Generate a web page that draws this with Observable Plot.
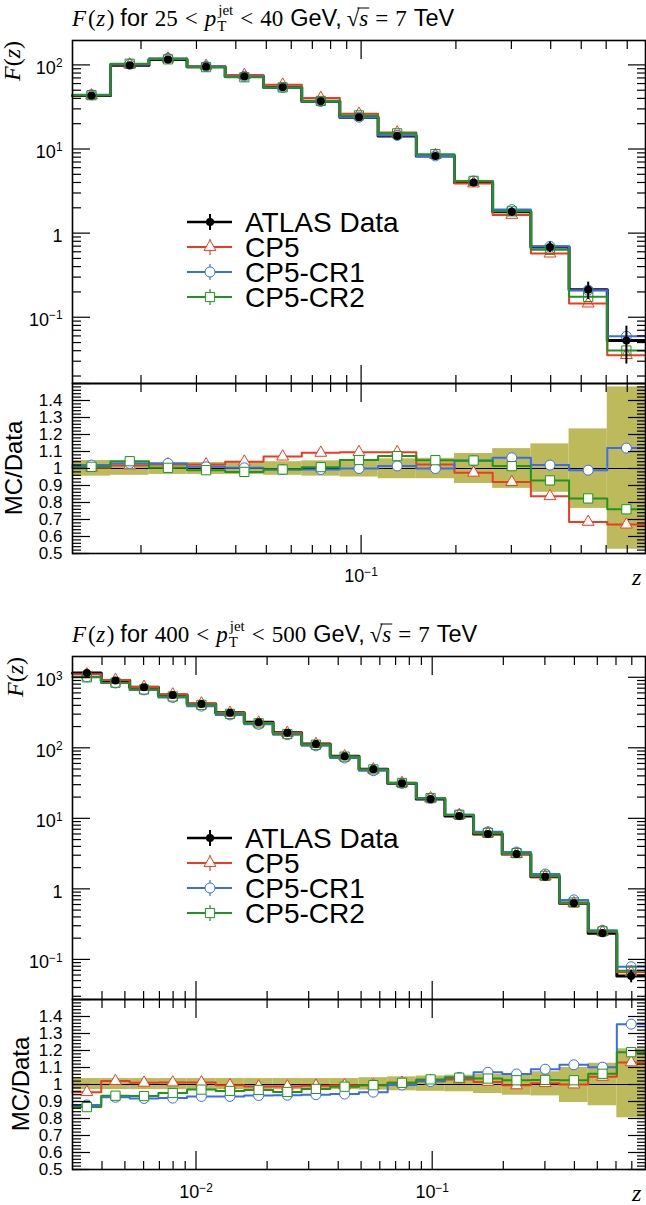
<!DOCTYPE html>
<html>
<head>
<meta charset="utf-8">
<script src="https://cdn.jsdelivr.net/npm/d3@7"></script>
<script src="https://cdn.jsdelivr.net/npm/@observablehq/plot@0.6"></script>
<style>
  body { margin: 0; background: #fff; }
  #page { position: relative; width: 646px; height: 1205px; overflow: hidden; background: #fff; }
  #page > svg { position: absolute; left: 0; }
</style>
</head>
<body>
<div id="page"></div>
<script>
// ---- 25 < pT(jet) < 40 GeV ----
const edgesLow = [0.01212, 0.0160, 0.0212, 0.0280, 0.0370, 0.0490, 0.0648, 0.0856, 0.1132, 0.1497, 0.1979, 0.2617, 0.346, 0.4575, 0.605, 0.80];
const dataLow = [43.2, 99, 116, 95, 72.7, 54.3, 37.0, 23.9, 14.3, 8.28, 3.99, 1.79, 0.682, 0.212, 0.0529];
const errUpLow = [0.047, 0.04, 0.035, 0.035, 0.035, 0.04, 0.045, 0.05, 0.057, 0.06, 0.088, 0.117, 0.145, 0.233, 0.48];
const errDnLow = [0.045, 0.04, 0.035, 0.035, 0.035, 0.04, 0.045, 0.05, 0.06, 0.06, 0.088, 0.117, 0.14, 0.235, 0.475];
const cp5Low = [1.005, 1.018, 1.024, 1.024, 1.04, 1.07, 1.092, 1.096, 1.096, 1.024, 0.975, 0.92, 0.837, 0.686, 0.67];
const cr1Low = [1.02, 1.03, 1.03, 1.01, 1.004, 0.994, 0.994, 1.0, 1.015, 1.0, 1.045, 1.063, 1.02, 0.99, 1.12];
const cr2Low = [1.01, 1.043, 1.004, 0.99, 0.98, 0.994, 1.008, 1.05, 1.073, 1.049, 1.047, 1.014, 0.93, 0.824, 0.76];

// ---- 400 < pT(jet) < 500 GeV ----
const edgesHigh = [0.0030, 0.00397, 0.00524, 0.00693, 0.00917, 0.01212, 0.0160, 0.0212, 0.0280, 0.0370, 0.0490, 0.0648, 0.0856, 0.1132, 0.1497, 0.1979, 0.2617, 0.346, 0.4575, 0.605, 0.80];
const dataHigh = [1152, 897, 721, 562, 419, 315, 230, 164, 113.5, 75.9, 49.6, 31.4, 18.8, 10.8, 6.01, 3.13, 1.49, 0.625, 0.235, 0.058];
const errUpHigh = [0.035, 0.035, 0.035, 0.035, 0.035, 0.035, 0.035, 0.035, 0.035, 0.035, 0.04, 0.045, 0.05, 0.055, 0.06, 0.06, 0.075, 0.1, 0.125, 0.21];
const errDnHigh = [0.03, 0.03, 0.03, 0.03, 0.03, 0.03, 0.03, 0.03, 0.03, 0.03, 0.033, 0.037, 0.04, 0.043, 0.053, 0.063, 0.067, 0.106, 0.125, 0.196];
const cp5High = [0.955, 1.02, 1.01, 1.012, 1.012, 0.995, 0.988, 0.988, 0.993, 0.995, 0.996, 1.01, 1.022, 1.03, 1.015, 0.995, 1.008, 1.0, 1.045, 1.13];
const cr1High = [0.88, 0.925, 0.918, 0.92, 0.93, 0.93, 0.935, 0.937, 0.94, 0.944, 0.955, 0.997, 1.017, 1.042, 1.072, 1.062, 1.09, 1.116, 1.102, 1.355];
const cr2High = [0.867, 0.934, 0.932, 0.95, 0.97, 0.962, 0.968, 0.956, 0.974, 0.987, 0.996, 1.01, 1.03, 1.04, 1.035, 1.025, 1.027, 1.025, 1.063, 1.19];

// axis ranges / tick labels
const xDomainLow = [0.01212, 0.80];
const xDomainHigh = [0.0030, 0.80];
const yDomainLow = [0.0163, 195];
const yDomainHigh = [0.027, 1970];
const ratioDomain = [0.5, 1.5];
const ratioLabels = [0.5, 0.6, 0.7, 0.8, 0.9, 1, 1.1, 1.2, 1.3, 1.4];
const legendLabels = ["ATLAS Data", "CP5", "CP5-CR1", "CP5-CR2"];

const SANS = "'Liberation Sans', Arial, Helvetica, sans-serif";
const SERIF = "'Liberation Serif', 'Times New Roman', serif";
const bandColor = "#bdba5c";
const series = [
  {name: "CP5", color: "#ee3b20", symbol: "triangle", r: 4.4},
  {name: "CP5-CR1", color: "#3a6cf2", symbol: "circle", r: 5},
  {name: "CP5-CR2", color: "#1e961e", symbol: "square", r: 5.2}
];

const page = document.getElementById("page");

function steps(edges, vals) {
  return edges.map((x, i) => ({x, y: vals[Math.min(i, vals.length - 1)]}));
}
function centers(edges) {
  return edges.slice(0, -1).map((e, i) => Math.sqrt(e * edges[i + 1]));
}
function logTicks(domain, major) {
  const out = [];
  for (let e = -4; e <= 4; e++) {
    for (let m = 1; m <= 9; m++) {
      const v = m * Math.pow(10, e);
      if (v > domain[0] * 1.001 && v < domain[1] * 0.999 && (major ? m === 1 : m > 1)) out.push(+v.toPrecision(3));
    }
  }
  return out;
}
function fmtPow(d) {
  if (d === 1) return "1";
  const e = Math.round(Math.log10(d));
  return "10^" + (e < 0 ? "\u2212" + (-e) : e);
}
function supify(svg) {
  const ns = "http://www.w3.org/2000/svg";
  svg.querySelectorAll("text").forEach(t => {
    const s = t.textContent;
    if (!s.includes("^")) return;
    const [b, e] = s.split("^");
    t.textContent = "";
    const t1 = document.createElementNS(ns, "tspan");
    t1.textContent = b;
    const t2 = document.createElementNS(ns, "tspan");
    t2.textContent = e;
    t2.setAttribute("font-size", "0.66em");
    t2.setAttribute("dy", "-0.55em");
    t.append(t1, t2);
  });
}

// inward tick marks on all four sides
function frameTicks(xMajor, xMinor, yMajor, yMinor) {
  const t = (fn, data, anchor, size) => fn(data, {anchor, tickSize: -size, fill: "none", label: null, strokeWidth: 1.2});
  return [
    t(Plot.axisY, yMajor, "left", 18), t(Plot.axisY, yMinor, "left", 9),
    t(Plot.axisY, yMajor, "right", 18), t(Plot.axisY, yMinor, "right", 9),
    t(Plot.axisX, xMajor, "top", 18), t(Plot.axisX, xMinor, "top", 8),
    t(Plot.axisX, xMajor, "bottom", 18), t(Plot.axisX, xMinor, "bottom", 8)
  ];
}

function panel(oy, edges, data, errUp, errDn, ratios, xDomain, yDomain) {
  const xc = centers(edges);
  const xMajor = logTicks(xDomain, true);
  const xMinor = logTicks(xDomain, false);
  const yMajor = logTicks(yDomain, true);
  const yMinor = logTicks(yDomain, false);

  const dataRows = data.map((v, i) => ({x: xc[i], v, lo: v * (1 - errDn[i]), hi: v * (1 + errUp[i])}));
  const mc = series.map((s, k) => ({...s, vals: ratios[k].map((r, i) => r * data[i]), ratio: ratios[k]}));

  const main = Plot.plot({
    width: 646, height: 345,
    marginLeft: 72, marginRight: 1, marginTop: 1, marginBottom: 1,
    style: {fontFamily: SANS, fontSize: "18px", background: "transparent", overflow: "visible"},
    x: {type: "log", domain: xDomain},
    y: {type: "log", domain: yDomain},
    marks: [
      Plot.lineY(steps(edges, data), {x: "x", y: "y", curve: "step-after", stroke: "black", strokeWidth: 3}),
      ...mc.map(s => Plot.lineY(steps(edges, s.vals), {x: "x", y: "y", curve: "step-after", stroke: s.color, strokeWidth: 2})),
      ...mc.map(s => Plot.dot(s.vals.map((v, i) => ({x: xc[i], v})), {x: "x", y: "v", symbol: s.symbol, r: s.r, stroke: s.color, fill: "none", strokeWidth: 1})),
      Plot.ruleX(dataRows, {x: "x", y1: "lo", y2: "hi", stroke: "black", strokeWidth: 2}),
      Plot.dot(dataRows, {x: "x", y: "v", fill: "black", r: 4}),
      Plot.frame({strokeWidth: 1.6}),
      ...frameTicks(xMajor, xMinor, yMajor, yMinor),
      Plot.axisY(yMajor, {anchor: "left", tickSize: 0, tickPadding: 10, tickFormat: fmtPow, label: null, dy: 3, fontSize: 18})
    ]
  });
  supify(main);
  main.style.top = (oy + 39) + "px";
  page.appendChild(main);

  const bandRows = data.map((v, i) => ({x1: edges[i], x2: edges[i + 1], y1: 1 - errDn[i], y2: 1 + errUp[i]}));
  const rMajor = d3.range(5, 16).map(k => k / 10);
  const rMinor = d3.range(25, 76).map(k => k / 50);

  const ratio = Plot.plot({
    width: 646, height: 213,
    marginLeft: 72, marginRight: 1, marginTop: 1, marginBottom: 42,
    style: {fontFamily: SANS, fontSize: "18px", background: "transparent", overflow: "visible"},
    x: {type: "log", domain: xDomain},
    y: {domain: ratioDomain},
    marks: [
      Plot.rect(bandRows, {x1: "x1", x2: "x2", y1: "y1", y2: "y2", fill: bandColor}),
      Plot.ruleY([1], {stroke: "black", strokeWidth: 1.2}),
      ...mc.map(s => Plot.lineY(steps(edges, s.ratio), {x: "x", y: "y", curve: "step-after", stroke: s.color, strokeWidth: 2})),
      ...mc.map(s => Plot.dot(s.ratio.map((v, i) => ({x: xc[i], v})), {x: "x", y: "v", symbol: s.symbol, r: s.r, stroke: s.color, fill: "white", strokeWidth: 1})),
      Plot.frame({strokeWidth: 1.6}),
      ...frameTicks(xMajor, xMinor, rMajor, rMinor),
      Plot.axisY(ratioLabels, {anchor: "left", tickSize: 0, tickPadding: 10, tickFormat: d => d === 1 ? "1" : d.toFixed(1), label: null, fontSize: 17}),
      Plot.axisX(xMajor, {anchor: "bottom", tickSize: 0, tickPadding: 16, tickFormat: fmtPow, label: null, fontSize: 18})
    ]
  });
  supify(ratio);
  ratio.style.top = (oy + 382) + "px";
  page.appendChild(ratio);
}

panel(0, edgesLow, dataLow, errUpLow, errDnLow, [cp5Low, cr1Low, cr2Low], xDomainLow, yDomainLow);
panel(616, edgesHigh, dataHigh, errUpHigh, errDnHigh, [cp5High, cr1High, cr2High], xDomainHigh, yDomainHigh);

// ---- text overlay: titles, axis titles, legends ----
const ov = d3.select(page).append("svg")
  .attr("width", 646).attr("height", 1205)
  .style("top", "0px").style("pointer-events", "none");

function runText(g, x, y, tokens) {
  for (const [str, kind, gap = 0] of tokens) {
    x += gap;
    let size = 23, fam = SERIF, style = "normal", dy = 0, adv = true;
    if (kind === "sans") { fam = SANS; size = 23.5; }
    if (kind === "math" || kind === "over") style = "italic";
    if (kind === "sub") { size = 15; dy = 5; adv = false; }
    if (kind === "sup") { size = 15; dy = -11; }
    const t = g.append("text").attr("x", x).attr("y", y + dy)
      .attr("font-family", fam).attr("font-style", style).attr("font-size", size).text(str);
    const w = t.node().getComputedTextLength();
    if (kind === "over") {
      g.append("line").attr("x1", x - 2).attr("x2", x + w + 1).attr("y1", y - 18).attr("y2", y - 18)
        .attr("stroke", "black").attr("stroke-width", 1);
    }
    if (adv) x += w;
  }
}

function titleTokens(lo, hi) {
  return [["F", "math"], ["(", "serif", 2], ["z", "math", 0.5], [")", "serif", 1.5],
    ["for", "sans", 6], [lo, "serif", 7], ["<", "serif", 7], ["p", "math", 7],
    ["T", "sub", 1], ["jet", "sup", 1], ["<", "serif", 7], [hi, "serif", 7],
    ["GeV,", "sans", 7], ["\u221A", "serif", 5], ["s", "over", 0], ["=", "serif", 7],
    ["7", "serif", 7], ["TeV", "sans", 7]];
}

function decorate(oy, lo, hi, ratioLabelX, yLabelX) {
  const g = ov.append("g");
  runText(g, 72, oy + 26, titleTokens(lo, hi));

  // F(z) axis title
  const fz = g.append("text")
    .attr("transform", `translate(${yLabelX},${oy + 41}) rotate(-90)`)
    .attr("text-anchor", "end").attr("font-family", SERIF).attr("font-size", 24);
  fz.append("tspan").attr("font-style", "italic").text("F");
  fz.append("tspan").text("(");
  fz.append("tspan").attr("font-style", "italic").text("z");
  fz.append("tspan").text(")");

  g.append("text")
    .attr("transform", `translate(${ratioLabelX},${oy + 468}) rotate(-90)`)
    .attr("text-anchor", "middle").attr("font-family", SANS).attr("font-size", 24)
    .text("MC/Data");

  g.append("text").attr("x", 632).attr("y", oy + 585)
    .attr("font-family", SERIF).attr("font-style", "italic").attr("font-size", 24).text("z");

  // legend
  const rows = [{color: "black"}, ...series];
  rows.forEach((r, i) => {
    const y = oy + 222 + i * 25;
    g.append("line").attr("x1", 187).attr("x2", 232).attr("y1", y).attr("y2", y)
      .attr("stroke", r.color).attr("stroke-width", i ? 2 : 2.5);
    g.append("line").attr("x1", 210).attr("x2", 210).attr("y1", y - 8).attr("y2", y + 8)
      .attr("stroke", r.color).attr("stroke-width", i ? 1.2 : 2);
    if (i === 0) {
      g.append("circle").attr("cx", 210).attr("cy", y).attr("r", 4).attr("fill", "black");
    } else {
      const type = {triangle: d3.symbolTriangle, circle: d3.symbolCircle, square: d3.symbolSquare}[r.symbol];
      g.append("path").attr("d", d3.symbol(type, r.r * r.r * Math.PI)())
        .attr("transform", `translate(210,${y})`)
        .attr("fill", "white").attr("stroke", r.color).attr("stroke-width", 1);
    }
    g.append("text").attr("x", 245).attr("y", y + 10)
      .attr("font-family", SANS).attr("font-size", 28).text(legendLabels[i]);
  });
}

decorate(0, "25", "40", 22, 20);
decorate(616, "400", "500", 29, 23);
</script>
</body>
</html>
